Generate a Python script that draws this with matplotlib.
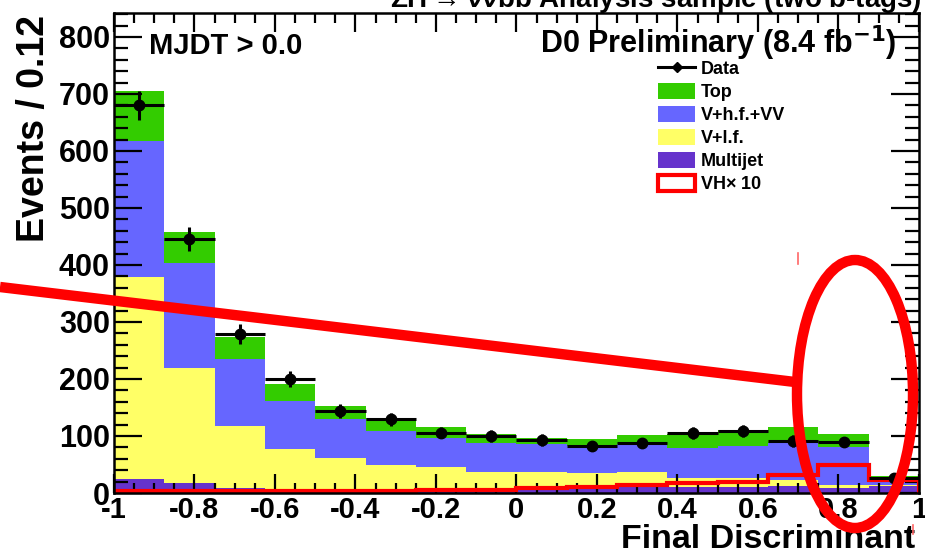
import numpy as np
import matplotlib.pyplot as plt
from matplotlib.lines import Line2D
from matplotlib.patches import Patch, Ellipse
from matplotlib.ticker import MultipleLocator

plt.rcParams['font.family'] = ['Liberation Sans', 'DejaVu Sans']
plt.rcParams['font.weight'] = 'bold'
plt.rcParams['axes.labelweight'] = 'bold'
plt.rcParams['mathtext.default'] = 'regular'

# 16 bins of the final discriminant, -1 .. 1
edges = np.linspace(-1, 1, 17)

# background components (events per bin), stacked bottom -> top
multijet = [25, 18, 8, 6, 5, 5, 9, 7, 8, 8, 10, 10, 11, 12, 9, 12]
v_lf = [354, 201, 109, 71, 57, 45, 37, 29, 28, 27, 26, 16, 16, 11, 5, 2]
v_hf_vv = [238, 184, 118, 84, 67, 59, 51, 51, 50, 47, 50, 53, 55, 64, 67, 12]
top = [89, 55, 38, 30, 23, 22, 18, 16, 10, 12, 16, 25, 29, 28, 23, 3]

data = [680, 445, 279, 200, 144, 129, 106, 100, 93, 83, 88, 105, 109, 91, 89, 26]
data_err = [26, 21, 17, 14, 12, 11, 10, 10, 10, 9, 9, 10, 10, 10, 9, 5]

# signal scaled by 10
vh_x10 = [4, 4, 4, 4, 4, 4, 5, 5, 9, 10, 14, 18, 20, 32, 49, 23]

xtick_vals = [-1, -0.8, -0.6, -0.4, -0.2, 0, 0.2, 0.4, 0.6, 0.8, 1]
xtick_labels = ['-1', '-0.8', '-0.6', '-0.4', '-0.2', '0', '0.2', '0.4', '0.6', '0.8', '1']

components = [
    ('Multijet', multijet, '#6633cc'),
    ('V+l.f.', v_lf, '#ffff66'),
    ('V+h.f.+VV', v_hf_vv, '#6666ff'),
    ('Top', top, '#33cc00'),
]

fig = plt.figure(figsize=(9.25, 5.54), dpi=100)
ax = fig.add_axes([0.1232, 0.1101, 0.8703, 0.8664])

base = np.zeros(len(data))
for name, vals, col in components:
    ax.stairs(base + np.array(vals), edges, baseline=base.copy(), fill=True,
              color=col, lw=0, zorder=1)
    base = base + np.array(vals)

ax.stairs(vh_x10, edges, color='#ff0000', lw=3, zorder=2)

centers = 0.5 * (edges[:-1] + edges[1:])
half = 0.5 * np.diff(edges)
ax.errorbar(centers, data, xerr=half, yerr=data_err, fmt='o', color='black',
            ms=7.5, elinewidth=2.2, capsize=0, zorder=3)

ax.set_xlim(-1, 1)
ax.set_ylim(0, 842)
ax.set_xticks(xtick_vals)
ax.set_xticklabels(xtick_labels)
ax.xaxis.set_minor_locator(MultipleLocator(0.05))
ax.yaxis.set_major_locator(MultipleLocator(100))
ax.yaxis.set_minor_locator(MultipleLocator(20))
ax.tick_params(which='both', direction='in', top=True, right=True, width=1.6,
               labelsize=22, pad=3)
ax.tick_params(axis='x', labelsize=21, pad=2)
ax.tick_params(axis='x', which='major', length=14)
ax.tick_params(axis='x', which='minor', length=7)
ax.tick_params(axis='y', which='major', length=20)
ax.tick_params(axis='y', which='minor', length=10)
for s in ax.spines.values():
    s.set_linewidth(1.8)

ax.set_xlabel('Final Discriminant', fontsize=24.5, loc='right')
ax.xaxis.set_label_coords(0.995, -0.115)
ax.xaxis.label.set_verticalalignment('baseline')
ax.set_ylabel('Events / 0.12', fontsize=27, loc='top')
ax.yaxis.set_label_coords(-0.077, 0.996)

ax.text(0.043, 0.915, 'MJDT > 0.0', transform=ax.transAxes, fontsize=21,
        va='baseline')
ax.text(0.972, 0.915, r'D0 Preliminary (8.4 fb$^{\mathbf{-1}}$)',
        transform=ax.transAxes, fontsize=22, ha='right', va='baseline')
fig.text(0.997, 0.9856, r'ZH$\rightarrow\nu\nu b\bar{b}$ Analysis sample (two b-tags)',
         fontsize=20, ha='right', va='baseline')

handles = [
    Line2D([], [], color='black', marker='D', ms=5.5, lw=2.2),
    Patch(facecolor='#33cc00', edgecolor='none'),
    Patch(facecolor='#6666ff', edgecolor='none'),
    Patch(facecolor='#ffff66', edgecolor='none'),
    Patch(facecolor='#6633cc', edgecolor='none'),
    Patch(facecolor='white', edgecolor='#ff0000', lw=3),
]
labels = ['Data', 'Top', 'V+h.f.+VV', 'V+l.f.', 'Multijet', r'VH$\times$ 10']
fig.legend(handles, labels, loc='upper left', bbox_to_anchor=(658 / 925, 1 - 60 / 554),
           frameon=False, fontsize=13, handlelength=2.05, handleheight=0.95,
           handletextpad=0.3, labelspacing=0.28, borderpad=0, borderaxespad=0)

# hand-drawn highlight on top of the figure
fig.add_artist(Line2D([0 / 925, 795 / 925], [1 - 287 / 554, 1 - 382 / 554],
                      transform=fig.transFigure, color='#ff0000', lw=7.5,
                      solid_capstyle='butt', zorder=10))
fig.add_artist(Ellipse((855 / 925, 1 - 394 / 554), 116 / 925, 268 / 554,
                       transform=fig.transFigure, fill=False,
                       edgecolor='#ff0000', lw=7.5, zorder=10))
fig.add_artist(Line2D([798 / 925, 798 / 925], [1 - 253 / 554, 1 - 264 / 554],
                      transform=fig.transFigure, color='#ff6666', lw=1.2, zorder=10))
fig.add_artist(Line2D([913 / 925, 913 / 925], [1 - 525 / 554, 1 - 534 / 554],
                      transform=fig.transFigure, color='#ff6666', lw=1.2, zorder=10))

fig.savefig('out.png', dpi=100)
